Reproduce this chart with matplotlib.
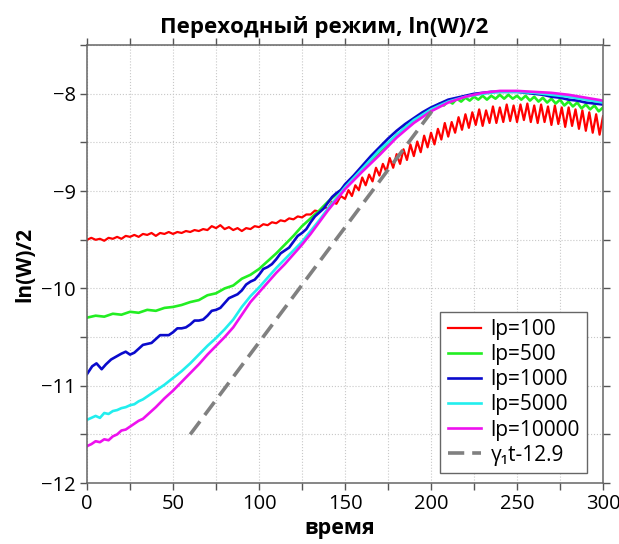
import numpy as np
import matplotlib
matplotlib.use("Agg")
import matplotlib.pyplot as plt
from matplotlib.ticker import MultipleLocator

plt.rcParams["font.family"] = ["Open Sans", "DejaVu Sans"]

# ---------------------------------------------------------------------------
# Data
# ---------------------------------------------------------------------------
t_red = np.concatenate([np.arange(0, 150.1, 2.5), np.arange(152, 300.1, 2)])
lp100 = [
    -9.50, -9.48, -9.50, -9.49, -9.51, -9.48, -9.49, -9.47, -9.49, -9.46,
    -9.47, -9.45, -9.47, -9.44, -9.45, -9.43, -9.46, -9.43, -9.44, -9.42,
    -9.44, -9.42, -9.43, -9.41, -9.42, -9.40, -9.41, -9.39, -9.40, -9.36,
    -9.38, -9.35, -9.39, -9.37, -9.40, -9.38, -9.41, -9.38, -9.39, -9.36,
    -9.37, -9.34, -9.35, -9.32, -9.33, -9.30, -9.31, -9.28, -9.29, -9.26,
    -9.27, -9.24, -9.24, -9.20, -9.21, -9.16, -9.18, -9.11, -9.13, -9.05,
    -9.08,
    -8.99, -9.05, -8.94, -8.99, -8.86, -8.94, -8.83, -8.90, -8.76, -8.84,
    -8.72, -8.80, -8.66, -8.76, -8.62, -8.72, -8.57, -8.68, -8.52, -8.64,
    -8.49, -8.60, -8.43, -8.55, -8.40, -8.52, -8.36, -8.47, -8.30, -8.44,
    -8.29, -8.40, -8.24, -8.37, -8.21, -8.35, -8.19, -8.32, -8.16, -8.33,
    -8.17, -8.30, -8.13, -8.30, -8.14, -8.29, -8.11, -8.28, -8.12, -8.29,
    -8.11, -8.27, -8.10, -8.29, -8.12, -8.30, -8.11, -8.29, -8.13, -8.32,
    -8.12, -8.31, -8.14, -8.34, -8.14, -8.33, -8.16, -8.36, -8.17, -8.38,
    -8.19, -8.40, -8.21, -8.42, -8.23,
]

t_green = np.concatenate([np.arange(0, 150.1, 5), np.arange(152.5, 300.1, 2.5)])
lp500 = [
    -10.30, -10.28, -10.29, -10.26, -10.27, -10.24, -10.25, -10.22, -10.23, -10.20,
    -10.19, -10.17, -10.14, -10.12, -10.07, -10.05, -10.00, -9.97, -9.90, -9.86,
    -9.80, -9.72, -9.64, -9.55, -9.46, -9.36, -9.28, -9.20, -9.11, -9.03,
    -8.95,
    -8.91, -8.88, -8.84, -8.79, -8.75, -8.69, -8.66, -8.60, -8.57, -8.51,
    -8.48, -8.42, -8.40, -8.34, -8.32, -8.27, -8.26, -8.21, -8.20, -8.15,
    -8.15, -8.10, -8.12, -8.07, -8.10, -8.05, -8.08, -8.04, -8.07, -8.03,
    -8.06, -8.02, -8.06, -8.02, -8.05, -8.01, -8.05, -8.01, -8.05, -8.02,
    -8.06, -8.02, -8.07, -8.03, -8.08, -8.04, -8.09, -8.05, -8.10, -8.06,
    -8.12, -8.08, -8.13, -8.09, -8.15, -8.11, -8.16, -8.12, -8.18, -8.14,
]

t_blue = np.concatenate([[0, 3, 5.5, 8.5, 11, 14, 17],
                         np.arange(20, 150.1, 2.5), np.arange(155, 300.1, 5)])
lp1000 = [
    -10.88, -10.80, -10.77, -10.83, -10.78, -10.73, -10.70,
    -10.67, -10.65, -10.68, -10.66, -10.62, -10.58, -10.57, -10.56, -10.52, -10.48,
    -10.48, -10.48, -10.45, -10.41, -10.41, -10.40, -10.37, -10.33, -10.33, -10.32,
    -10.28, -10.23, -10.22, -10.20, -10.15, -10.10, -10.08, -10.06, -10.02, -9.96,
    -9.93, -9.91, -9.86, -9.80, -9.78, -9.75, -9.70, -9.64, -9.61, -9.58,
    -9.52, -9.46, -9.43, -9.39, -9.32, -9.26, -9.22, -9.18, -9.12, -9.06,
    -9.02, -8.99, -8.93,
    -8.84, -8.74, -8.64, -8.55, -8.46, -8.38, -8.31, -8.25, -8.19, -8.14,
    -8.10, -8.06, -8.04, -8.02, -8.00, -7.99, -7.98, -7.98, -7.98, -7.98,
    -7.99, -8.00, -8.01, -8.03, -8.04, -8.06, -8.07, -8.09, -8.10, -8.11,
]

t_cyan = [0, 2.5, 5, 7.5, 10, 12.5, 15, 17.5, 20, 22.5, 25, 27.5, 30, 32.5, 35,
          37.5, 40, 45, 50, 55, 60, 65, 70, 75, 80, 85, 90, 95, 100, 105, 110,
          115, 120, 125, 130, 135, 140, 145, 150, 160, 170, 180, 190, 200, 210,
          220, 230, 240, 250, 260, 270, 280, 290, 300]
lp5000 = [
    -11.35, -11.33, -11.31, -11.33, -11.28, -11.29, -11.26, -11.25, -11.23, -11.22,
    -11.20, -11.19, -11.16, -11.14, -11.11, -11.08, -11.05, -10.99, -10.92, -10.85,
    -10.77, -10.68, -10.59, -10.51, -10.42, -10.32, -10.19, -10.08, -9.99, -9.89,
    -9.79, -9.70, -9.61, -9.52, -9.41, -9.30, -9.18, -9.07, -8.96, -8.77,
    -8.58, -8.42, -8.27, -8.16, -8.08, -8.03, -8.00, -7.98, -7.98, -7.99,
    -8.01, -8.03, -8.06, -8.09,
]

t_magenta = [0, 2.5, 5, 7.5, 10, 12.5, 15, 17.5, 20, 22.5, 25, 27.5, 30, 32.5,
             35, 40, 45, 50, 55, 60, 65, 70, 75, 80, 85, 90, 95, 100, 105, 110,
             115, 120, 125, 130, 135, 140, 145, 150, 160, 170, 180, 190, 200,
             210, 220, 230, 240, 250, 260, 270, 280, 290, 300]
lp10000 = [
    -11.62, -11.60, -11.57, -11.58, -11.55, -11.56, -11.52, -11.50, -11.46, -11.45,
    -11.42, -11.39, -11.36, -11.34, -11.30, -11.22, -11.13, -11.05, -10.96, -10.87,
    -10.78, -10.68, -10.59, -10.50, -10.40, -10.27, -10.14, -10.04, -9.94, -9.84,
    -9.75, -9.65, -9.55, -9.44, -9.32, -9.20, -9.09, -8.98, -8.80, -8.63,
    -8.45, -8.30, -8.18, -8.09, -8.03, -7.99, -7.97, -7.97, -7.98, -7.99,
    -8.01, -8.04, -8.07,
]

t_fit = [60, 203]
fit_vals = [-11.50, -8.12]

series = [
    (t_red, lp100, "lp=100", "#ff0000", 1.6),
    (t_green, lp500, "lp=500", "#22ee22", 1.9),
    (t_blue, lp1000, "lp=1000", "#0a0acc", 1.9),
    (t_cyan, lp5000, "lp=5000", "#22eeee", 1.9),
    (t_magenta, lp10000, "lp=10000", "#ee11ee", 1.9),
]

# ---------------------------------------------------------------------------
fig = plt.figure(figsize=(6.19, 5.44), dpi=100)
ax = fig.add_axes([0.1406, 0.112, 0.8336, 0.805])

for t, vals, label, color, lw in series:
    ax.plot(t, vals, color=color, linewidth=lw, label=label)
ax.plot(t_fit, fit_vals, color="#808080", linewidth=2.6, dashes=(4.5, 2.2),
        label="γ₁t-12.9")

ax.set_xlim(0, 300)
ax.set_ylim(-12, -7.5)
ax.xaxis.set_major_locator(MultipleLocator(50))
ax.xaxis.set_minor_locator(MultipleLocator(25))
ax.yaxis.set_major_locator(MultipleLocator(1))
ax.yaxis.set_minor_locator(MultipleLocator(0.5))
ax.tick_params(which="both", direction="out", top=True, right=True,
               length=5, width=1, color="#555555")
ax.tick_params(labelsize=14.5, pad=3)
ax.grid(True, which="both", linestyle=":", color="#c8c8c8", linewidth=0.8)
for sp in ax.spines.values():
    sp.set_color("#666666")
    sp.set_linewidth(1.1)

ax.set_title("Переходный режим, ln(W)/2", fontsize=16, fontweight="bold",
             pad=9, x=0.46)
ax.set_xlabel("время", fontsize=15.5, fontweight="bold")
ax.xaxis.set_label_coords(0.49, -0.08)
ax.set_ylabel("ln(W)/2", fontsize=15, fontweight="bold", labelpad=4)

leg = ax.legend(loc="lower right", bbox_to_anchor=(0.969, 0.023), borderaxespad=0,
                fontsize=15, fancybox=False, framealpha=1, edgecolor="#666666",
                handlelength=1.6, handletextpad=0.45, labelspacing=0.2,
                borderpad=0.35)
leg.get_frame().set_linewidth(1.0)

fig.savefig("out.png", dpi=100)
